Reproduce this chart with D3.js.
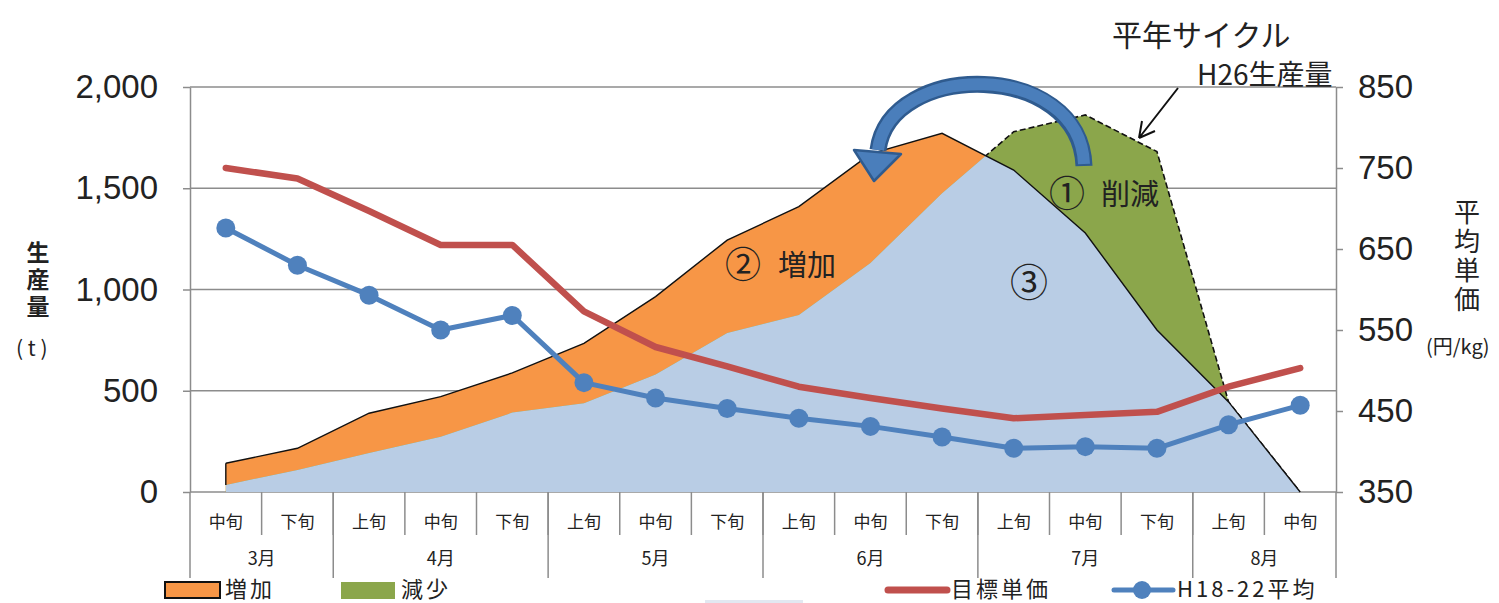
<!DOCTYPE html>
<html lang="ja">
<head>
<meta charset="UTF-8" />
<script src="https://d3js.org/d3.v7.min.js"></script>
<title>生産量と平均単価</title>
<style>
  body { margin: 0; background: #fff; }
  svg text { font-family: "Liberation Sans", Arial, sans-serif; fill: #222; }
  svg .jp { font-family: "Noto Sans CJK JP", sans-serif; }
  svg .vert { writing-mode: vertical-rl; }
</style>
</head>
<body>
<svg width="1499" height="603"></svg>
<script>
// 旬ごとの区分
const slots = ["中旬","下旬","上旬","中旬","下旬","上旬","中旬","下旬","上旬","中旬","下旬","上旬","中旬","下旬","上旬","中旬"];
const months = ["3月","4月","5月","6月","7月","8月"];
const monthSpans = [2,3,3,3,3,2];

// 生産量 (t)
const h26Prod  = [35,109,192,273,392,438,580,785,874,1131,1475,1779,1862,1681,445,0];
const newCycle = [142,216,389,471,588,734,965,1244,1409,1670,1771,1590,1279,800,445,0];

// 単価 (円/kg)
const targetPrice = [750,737,697,655,655,573,529,505,480,466,453,441,445,449,480,503];
const avgPrice    = [676,630,593,550,568,485,466,453,441,431,418,404,406,404,433,457];

const leftTicks = [0,500,1000,1500,2000];
const rightTicks = [350,450,550,650,750,850];

const svg = d3.select("svg");
const x = d3.scaleBand().domain(d3.range(slots.length)).range([190,1336]);
const cx = i => x(i) + x.bandwidth()/2;
const yL = d3.scaleLinear().domain([0,2000]).range([492,87]);
const yR = d3.scaleLinear().domain([350,850]).range([492,87]);

// grid
svg.append("g").selectAll("line").data(leftTicks).join("line")
  .attr("x1",190).attr("x2",1336)
  .attr("y1",d=>yL(d)).attr("y2",d=>yL(d))
  .attr("stroke","#8c8c8c").attr("stroke-width",1.5);

// areas
const area = d3.area().x((d,i)=>cx(i)).y0(yL(0)).y1(d=>yL(d));
const above = d3.area().x((d,i)=>cx(i)).y0(0).y1(d=>yL(d));
const defs = svg.append("defs");
defs.append("clipPath").attr("id","underNew").append("path").attr("d",area(newCycle));
defs.append("clipPath").attr("id","aboveNew").append("path").attr("d",above(newCycle));

svg.append("path").attr("d",area(newCycle)).attr("fill","#f79646");
svg.append("path").attr("d",area(h26Prod)).attr("fill","#8ba64b");
svg.append("path").attr("d",area(h26Prod)).attr("fill","#b9cde5").attr("clip-path","url(#underNew)");

const lineL = d3.line().x((d,i)=>cx(i)).y(d=>yL(d));
svg.append("path").attr("d",lineL(h26Prod)).attr("fill","none")
  .attr("stroke","#111").attr("stroke-width",1.6).attr("stroke-dasharray","6,3")
  .attr("clip-path","url(#aboveNew)");
svg.append("path").attr("d",lineL(newCycle)).attr("fill","none")
  .attr("stroke","#111").attr("stroke-width",1.4);
svg.append("line").attr("x1",cx(0)).attr("x2",cx(0))
  .attr("y1",yL(newCycle[0])).attr("y2",yL(h26Prod[0]))
  .attr("stroke","#111").attr("stroke-width",1.4);

// axes
const axL = svg.append("g").attr("transform","translate(190,0)")
  .call(d3.axisLeft(yL).tickValues(leftTicks).tickFormat(d3.format(",")).tickSize(7).tickSizeOuter(0).tickPadding(25));
const axR = svg.append("g").attr("transform","translate(1336,0)")
  .call(d3.axisRight(yR).tickValues(rightTicks).tickSize(7).tickSizeOuter(0).tickPadding(15));
[axL,axR].forEach(a=>{
  a.selectAll("path,line").attr("stroke","#8c8c8c").attr("stroke-width",1.5);
  a.selectAll("text").attr("font-size",33).attr("fill","#222")
    .style("font-family","'Liberation Sans', Arial, sans-serif");
});

// category axis
const xa = svg.append("g");
d3.range(1,slots.length).forEach(i=>{
  xa.append("line").attr("x1",x(i)).attr("x2",x(i)).attr("y1",492).attr("y2",535)
    .attr("stroke","#8c8c8c").attr("stroke-width",1.5);
});
let acc = 0;
const bounds = [0];
monthSpans.forEach(s=>{ acc += s; bounds.push(acc); });
bounds.forEach(b=>{
  const bx = b < slots.length ? x(b) : x.range()[1];
  xa.append("line").attr("x1",bx).attr("x2",bx).attr("y1",492).attr("y2",578)
    .attr("stroke","#8c8c8c").attr("stroke-width",1.5);
});
xa.selectAll("text.slot").data(slots).join("text").attr("class","slot jp")
  .attr("x",(d,i)=>cx(i)).attr("y",520).attr("text-anchor","middle")
  .attr("dominant-baseline","central").attr("font-size",17).text(d=>d);
xa.selectAll("text.month").data(months).join("text").attr("class","month jp")
  .attr("x",(d,i)=>{
    const a = x(bounds[i]);
    const b = bounds[i+1] < slots.length ? x(bounds[i+1]) : x.range()[1];
    return (a+b)/2;
  })
  .attr("y",557).attr("text-anchor","middle").attr("dominant-baseline","central")
  .attr("font-size",18).text(d=>d);

// price lines
const lineR = d3.line().x((d,i)=>cx(i)).y(d=>yR(d));
svg.append("path").attr("d",lineR(targetPrice)).attr("fill","none")
  .attr("stroke","#c0504d").attr("stroke-width",6.5).attr("stroke-linejoin","round").attr("stroke-linecap","round");
svg.append("path").attr("d",lineR(avgPrice)).attr("fill","none")
  .attr("stroke","#4f81bd").attr("stroke-width",5).attr("stroke-linejoin","round");
svg.append("g").selectAll("circle").data(avgPrice).join("circle")
  .attr("cx",(d,i)=>cx(i)).attr("cy",d=>yR(d)).attr("r",9.5).attr("fill","#4f81bd");

// big curved arrow
svg.append("path").attr("d","M1084,166 C1080,60 890,60 878,150").attr("fill","none")
  .attr("stroke","#2f5b8f").attr("stroke-width",17);
svg.append("path").attr("d","M1084,164 C1080,60 890,60 878,150").attr("fill","none")
  .attr("stroke","#4a7ebb").attr("stroke-width",12);
svg.append("path").attr("d","M854,150 L901,154 L874,181 Z")
  .attr("fill","#4a7ebb").attr("stroke","#2f5b8f").attr("stroke-width",2.5).attr("stroke-linejoin","round");

// small black arrow
svg.append("path").attr("d","M1178,88 L1139,138 M1139,138 L1142,121 M1139,138 L1155,131")
  .attr("fill","none").attr("stroke","#111").attr("stroke-width",2);

// annotations
const note = (t,xx,yy,fs,col) => svg.append("text").attr("class","jp")
  .attr("x",xx).attr("y",yy).attr("font-size",fs).attr("dominant-baseline","central")
  .attr("fill",col||"#222").text(t);
note("平年サイクル",1112,33,30);
note("H26生産量",1197,73,28);
note("①",1049,191,36,"#4b5a22");
note("削減",1101,192,29);
note("②",725,262,36,"#5a3a10");
note("増加",778,263,29);
note("③",1010,279,38,"#2a3f6a");

// axis titles (vertical)
svg.append("text").attr("class","jp vert").attr("x",38).attr("y",241)
  .attr("font-size",23).attr("font-weight","bold").attr("letter-spacing",4).text("生産量");
note("( t )",16,347,21);
svg.append("text").attr("class","jp vert").attr("x",1467).attr("y",199)
  .attr("font-size",26).attr("letter-spacing",3).text("平均単価");
note("(円/kg)",1426,345,20);

// legend
svg.append("rect").attr("x",165).attr("y",582).attr("width",55).attr("height",16)
  .attr("fill","#f79646").attr("stroke","#111").attr("stroke-width",2);
note("増加",225,587,22).attr("letter-spacing",3);
svg.append("rect").attr("x",341).attr("y",582).attr("width",54).attr("height",17).attr("fill","#8ba64b");
note("減少",401,587,22).attr("letter-spacing",3);
svg.append("rect").attr("x",705).attr("y",600).attr("width",98).attr("height",5).attr("fill","#e2e8f1");
svg.append("line").attr("x1",888).attr("x2",947).attr("y1",590).attr("y2",590)
  .attr("stroke","#c0504d").attr("stroke-width",7).attr("stroke-linecap","round");
note("目標単価",951,587,22).attr("letter-spacing",3);
svg.append("line").attr("x1",1114).attr("x2",1173).attr("y1",590).attr("y2",590)
  .attr("stroke","#4f81bd").attr("stroke-width",5).attr("stroke-linecap","round");
svg.append("circle").attr("cx",1142).attr("cy",590).attr("r",9).attr("fill","#4f81bd");
note("H18-22平均",1177,587,22).attr("letter-spacing",3);
</script>
</body>
</html>
